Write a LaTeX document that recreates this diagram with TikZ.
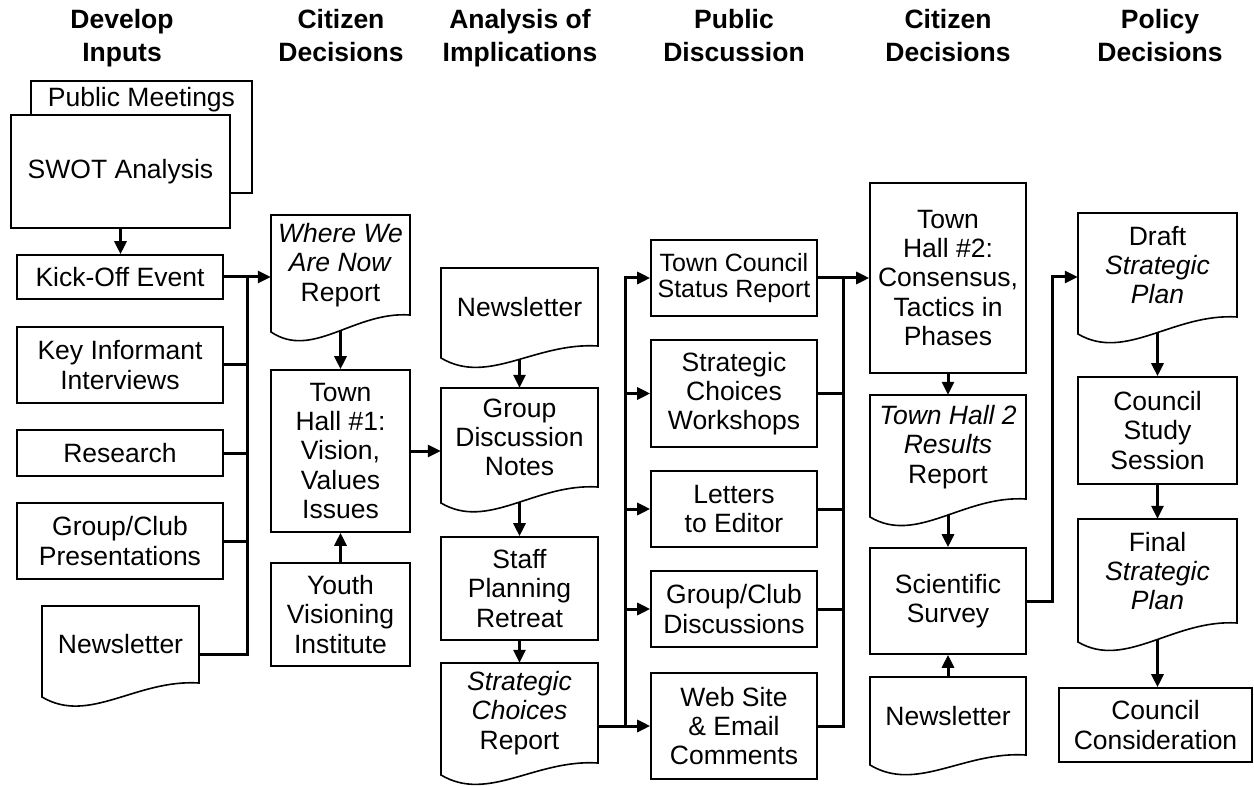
\documentclass[tikz,border=0pt]{standalone}
\usepackage{fontspec}
\setmainfont{Liberation Sans}
\usetikzlibrary{arrows.meta,backgrounds}
\newcommand\bodyfont{\fontsize{26.5}{29.2}\selectfont}
\newcommand\smallbodyfont{\fontsize{25}{26.5}\selectfont}
\newcommand\hdrfont{\bfseries\fontsize{26.5}{33}\selectfont}
\tikzset{
 boxline/.style={line width=1.6pt, draw=black},
 box/.style={boxline, fill=white, rectangle, align=center, inner sep=0pt, font=\bodyfont},
 txt/.style={rectangle, align=center, inner sep=0pt, font=\bodyfont},
 hdr/.style={align=center, inner sep=0pt, font=\hdrfont},
 conn/.style={line width=3pt, draw=black},
 arr/.style={conn, -{Triangle[length=13pt,width=12pt]}},
}
\newcommand\docnode[7]{%
  \draw[boxline, fill=white] (#3,#5) -- (#3,#4) -- (#2,#4) -- (#2,#6)
     .. controls ({#2+0.3*(#3-#2)},{#6+28}) and ({#2+0.6*(#3-#2)},{#5-4}) .. (#3,#5) -- cycle;
  \pgfmathsetmacro\dW{#3-#2}%
  \pgfmathsetmacro\dH{#5-#4}%
  \node[txt, minimum width=\dW pt, minimum height=\dH pt] (#1) at ({(#2+#3)/2},{(#4+#5)/2}) {#7};
}
\begin{document}
\begin{tikzpicture}[x=1pt,y=-1pt]
\useasboundingbox (0,0) rectangle (1254,786);
% headers
\node[hdr] (h1) at (122,38.2) {\strut Develop\\Inputs\strut};
\node[hdr] (h2) at (341,38.2) {\strut Citizen\\Decisions\strut};
\node[hdr] (h3) at (520,38.2) {\strut Analysis of\\Implications\strut};
\node[hdr] (h4) at (734,38.2) {\strut Public\\Discussion\strut};
\node[hdr] (h5) at (948,38.2) {\strut Citizen\\Decisions\strut};
\node[hdr] (h6) at (1160,38.2) {\strut Policy\\Decisions\strut};
% column 1
\node[box, minimum width=221pt, minimum height=112pt] (pm) at (141.5,137) {};
\node[txt] (pmt) at (141.5,100) {Public Meetings};
\node[box, minimum width=219pt, minimum height=113pt] (swot) at (120.5,171.5) {SWOT Analysis};
\node[box, minimum width=206pt, minimum height=44pt] (kick) at (120,277) {Kick-Off Event};
\node[box, minimum width=206pt, minimum height=76pt] (key) at (120,365) {Key Informant\\Interviews};
\node[box, minimum width=206pt, minimum height=46pt] (res) at (120,453) {Research};
\node[box, minimum width=206pt, minimum height=76pt] (grp) at (120,541) {Group/Club\\Presentations};
\docnode{nlL}{42}{199}{606}{683}{697}{Newsletter}
% column 2
\docnode{where}{271}{410}{215}{315}{332}{\textit{Where We}\\\textit{Are Now}\\Report}
\node[box, minimum width=139pt, minimum height=162pt] (th1) at (340.5,451) {Town\\Hall \#1:\\Vision,\\Values\\Issues};
\node[box, minimum width=139pt, minimum height=103pt] (youth) at (340.5,614.5) {Youth\\Visioning\\Institute};
% column 3
\docnode{nlM}{441}{598}{268}{346}{358}{Newsletter}
\docnode{gdn}{441}{598}{388}{487}{503}{Group\\Discussion\\Notes}
\node[box, minimum width=157pt, minimum height=103pt] (staff) at (519.5,588.5) {Staff\\Planning\\Retreat};
\docnode{scr}{441}{598}{663}{763}{775}{\textit{Strategic}\\\textit{Choices}\\Report}
% column 4
\node[box, font=\smallbodyfont, minimum width=166pt, minimum height=76pt] (tcsr) at (734,278) {Town Council\\Status Report};
\node[box, minimum width=166pt, minimum height=107pt] (scw) at (734,393.5) {Strategic\\Choices\\Workshops};
\node[box, minimum width=166pt, minimum height=76pt] (let) at (734,509) {Letters\\to Editor};
\node[box, minimum width=166pt, minimum height=76pt] (gcd) at (734,609) {Group/Club\\Discussions};
\node[box, minimum width=166pt, minimum height=106pt] (web) at (734,726) {Web Site\\\& Email\\Comments};
% column 5
\node[box, minimum width=156pt, minimum height=190pt] (th2) at (948,278) {Town\\Hall \#2:\\Consensus,\\Tactics in\\Phases};
\docnode{th2r}{870}{1026}{395}{499}{517}{\textit{Town Hall 2}\\\textit{Results}\\Report}
\node[box, minimum width=156pt, minimum height=106pt] (sci) at (948,601) {Scientific\\Survey};
\docnode{nlR}{870}{1026}{677}{755}{765}{Newsletter}
% column 6
\docnode{draft}{1078}{1237}{213}{317}{334}{Draft\\\textit{Strategic}\\\textit{Plan}}
\node[box, minimum width=159pt, minimum height=107pt] (css) at (1157.5,430.5) {Council\\Study\\Session};
\docnode{final}{1078}{1237}{519}{623}{642}{Final\\\textit{Strategic}\\\textit{Plan}}
\node[box, minimum width=193pt, minimum height=74pt] (cc) at (1155.5,725) {Council\\Consideration};
% connectors
\begin{pgfonlayer}{background}
\draw[arr] (swot.south) -- (swot.south |- kick.north);
\coordinate (b1) at (247,277);
\coordinate (b5) at (247,654);
\draw[arr] (kick.east) -- (kick.east -| where.west);
\draw[conn] (nlL.east |- b5) -- (b5) -- (b1);
\draw[conn] (key.east) -- (key.east -| b1);
\draw[conn] (res.east) -- (res.east -| b1);
\draw[conn] (grp.east) -- (grp.east -| b1);
\draw[arr] (where.south) -- (th1.north);
\draw[arr] (youth.north) -- (th1.south);
\draw[arr] (th1.east) -- (th1.east -| gdn.west);
\draw[arr] (nlM.south) -- (gdn.north);
\draw[arr] (gdn.south) -- (staff.north);
\draw[arr] (staff.south) -- (scr.north);
\coordinate (m1) at (625,278);
\coordinate (m5) at (625,726);
\draw[arr] (web.west -| scr.east) -- (web.west);
\draw[arr] (m5) -- (m1) -- (tcsr.west);
\draw[arr] (m1 |- scw.west) -- (scw.west);
\draw[arr] (m1 |- let.west) -- (let.west);
\draw[arr] (m1 |- gcd.west) -- (gcd.west);
\coordinate (r1) at (843,278);
\coordinate (r5) at (843,726);
\draw[arr] (tcsr.east) -- (th2.west);
\draw[conn] (web.east) -- (r5) -- (r1);
\draw[conn] (scw.east) -- (scw.east -| r1);
\draw[conn] (let.east) -- (let.east -| r1);
\draw[conn] (gcd.east) -- (gcd.east -| r1);
\draw[arr] (th2.south) -- (th2r.north);
\draw[arr] (th2r.south) -- (sci.north);
\draw[arr] (nlR.north) -- (sci.south);
\coordinate (dj) at (1052,277);
\draw[arr] (sci.east) -| (dj) -- (dj -| draft.west);
\draw[arr] (draft.south) -- (css.north);
\draw[arr] (css.south) -- (final.north);
\draw[arr] (final.south) -- (final.south |- cc.north);
\end{pgfonlayer}
\end{tikzpicture}
\end{document}
